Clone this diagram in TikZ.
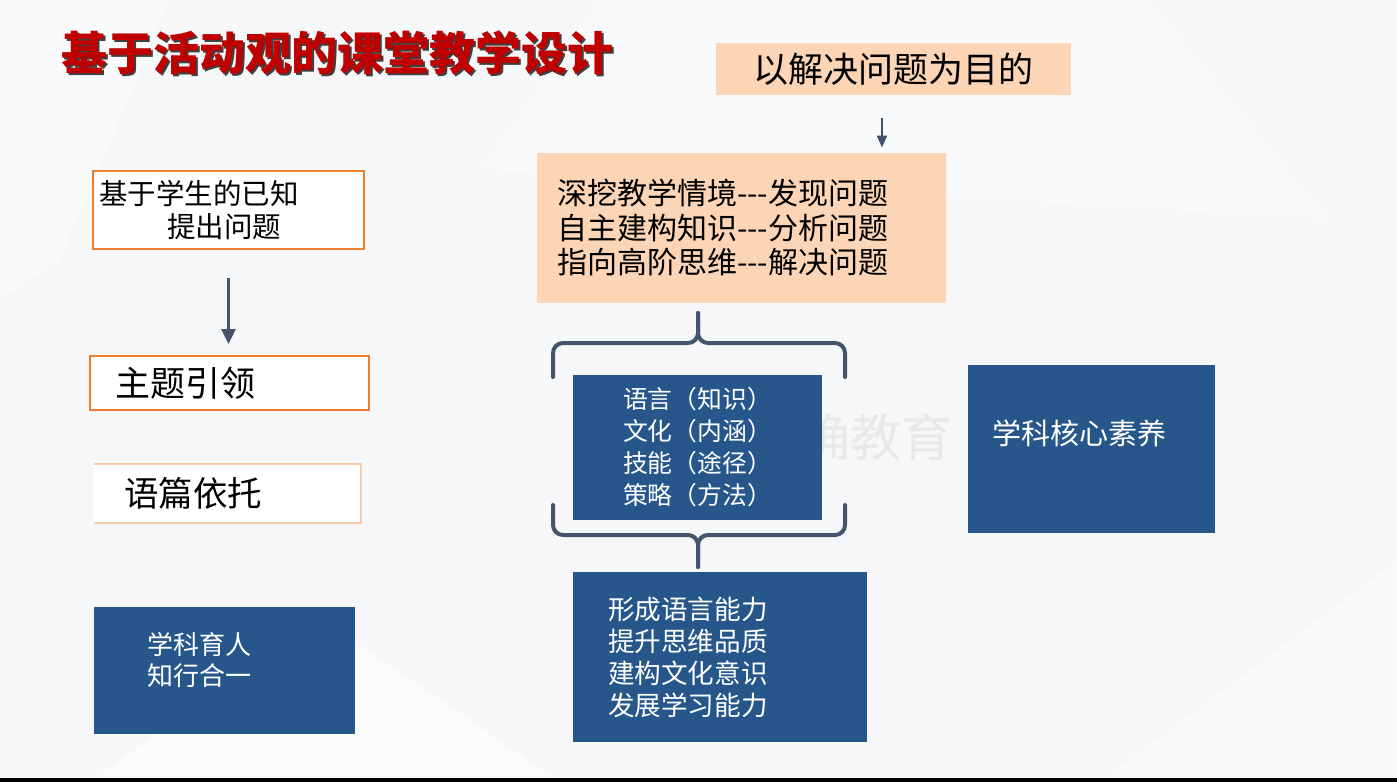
\documentclass[tikz,border=0pt]{standalone}
\usepackage{fontspec}
\newfontfamily\cjk{Noto Sans CJK SC}
\usetikzlibrary{arrows.meta,calc,positioning}
\definecolor{peach}{HTML}{FBD5B5}
\definecolor{boxorange}{HTML}{ED7D31}
\definecolor{lightorange}{HTML}{F8CBAD}
\definecolor{boxblue}{HTML}{27578A}
\definecolor{slate}{HTML}{44546A}
\definecolor{titlered}{HTML}{C00000}
\definecolor{slidebg}{HTML}{F6F7F9}
\newcommand{\cjksize}[2]{\fontsize{#1}{#2}\selectfont\cjk}
\tikzset{
peachbox/.style={
  rectangle,
  fill=peach,
  inner sep=0pt,
  },
linebox/.style={
  rectangle,
  draw=boxorange,
  line width=1pt,
  fill=white,
  inner sep=0pt,
  },
bluebox/.style={
  rectangle,
  fill=boxblue,
  text=white,
  inner sep=0pt,
  }
}
\tikzset{
myline/.style={
  line width=1.5pt,
  draw=slate,
  -{Triangle[length=7.5pt,width=7pt]}
  },
smallline/.style={
  line width=1pt,
  draw=slate,
  -{Triangle[length=6pt,width=5pt]}
  },
mybrace/.style={
  line width=2pt,
  draw=slate,
  rounded corners=5pt,
  line cap=round
  }
}

\begin{document}
\begin{tikzpicture}[x=0.5pt,y=-0.5pt]
    \useasboundingbox (0,0) rectangle (1397,782);
    % background
    \fill[slidebg] (0,0) rectangle (1397,782);
    \fill[white, opacity=0.4] (0,0) -- (170,0) -- (60,260) -- (0,300) -- cycle;
    \fill[white, opacity=0.3] (600,0) -- (1150,0) -- (1330,220) -- (480,170) -- cycle;
    \fill[white, opacity=0.5] (90,782) -- (318,615) -- (560,782) -- cycle;
    \fill[white, opacity=0.4] (1100,782) -- (1397,560) -- (1397,782) -- cycle;
    \fill[black] (0,778) rectangle (1397,782);

    % title
    \node[font=\cjksize{23}{27}\bfseries, text=black!75] (titleshadow) at (339,55) {基于活动观的课堂教学设计};
    \node[font=\cjksize{23}{27}\bfseries, text=titlered] (title) at (337.5,53) {基于活动观的课堂教学设计};

    % goal part
    \node[peachbox, minimum width=177.5pt, minimum height=26pt, font=\cjksize{17.5}{21}] (purpose) at (893.5,69) {以解决问题为目的};
    \node[peachbox, minimum height=75pt, text width=184.5pt, inner xsep=10pt, align=left, font=\cjksize{15}{17.25}] (deep) at (741.5,228)
      {深挖教学情境-{}-{}-发现问题\\自主建构知识-{}-{}-分析问题\\指向高阶思维-{}-{}-解决问题};
    \coordinate (ax) at (882,0);

    % left part
    \node[linebox, minimum height=39pt, text width=129.5pt, inner xsep=3pt, align=left, font=\cjksize{14.25}{16.5}] (known) at (228.5,210)
      {基于学生的已知\\\hspace*{34pt}提出问题};
    \node[linebox, minimum height=27pt, text width=114.5pt, inner xsep=12.5pt, align=left, font=\cjksize{17.5}{21}] (theme) at (229.5,383) {主题引领};
    \node[rectangle, fill=white, minimum height=29.5pt, text width=103.5pt, inner xsep=15pt, inner ysep=0pt, align=left, font=\cjksize{17.25}{21}] (discourse) at (227.5,493.5) {语篇依托};
    \node[bluebox, minimum height=63.5pt, text width=77.5pt, inner xsep=26.5pt, text depth=27pt, align=left, font=\cjksize{13}{15.5}] (educate) at (224.5,670.5)
      {学科育人\\知行合一};

    % middle part
    \node[text=black!9, font=\cjksize{25.5}{30}] (mark) at (850,437) {正确教育};
    \node[bluebox, minimum width=124.5pt, minimum height=72.5pt, align=left, font=\cjksize{12.4}{16}] (aspects) at (697.5,447.5)
      {语言（知识）\\文化（内涵）\\技能（途径）\\策略（方法）};
    \node[bluebox, minimum height=85pt, text width=112pt, inner xsep=17.5pt, align=left, font=\cjksize{13.3}{16}] (result) at (720,657)
      {形成语言能力\\提升思维品质\\建构文化意识\\发展学习能力};

    % right part
    \node[bluebox, minimum height=84pt, text width=99.5pt, inner xsep=12pt, text depth=16.8pt, align=left, font=\cjksize{14.5}{17}] (core) at (1091.5,449) {学科核心素养};

    % edges
    \draw[lightorange, line width=1pt] (discourse.north west) -- (discourse.north east) -- (discourse.south east) -- (discourse.south west);
    \draw[smallline, shorten <=11.5pt, shorten >=2.5pt] (purpose.south -| ax) -- (deep.north -| ax);
    \draw[myline, shorten <=14pt, shorten >=5.5pt] (known.south) -- (known.south |- theme.north);

    % braces
    \draw[mybrace] (553,377) -- (553,343) -- (698,343) -- (698,313);
    \draw[mybrace] (845,377) -- (845,343) -- (698,343) -- (698,313);
    \draw[mybrace] (553,505) -- (553,535) -- (698,535) -- (698,567);
    \draw[mybrace] (845,505) -- (845,535) -- (698,535) -- (698,567);
\end{tikzpicture}
\end{document}
